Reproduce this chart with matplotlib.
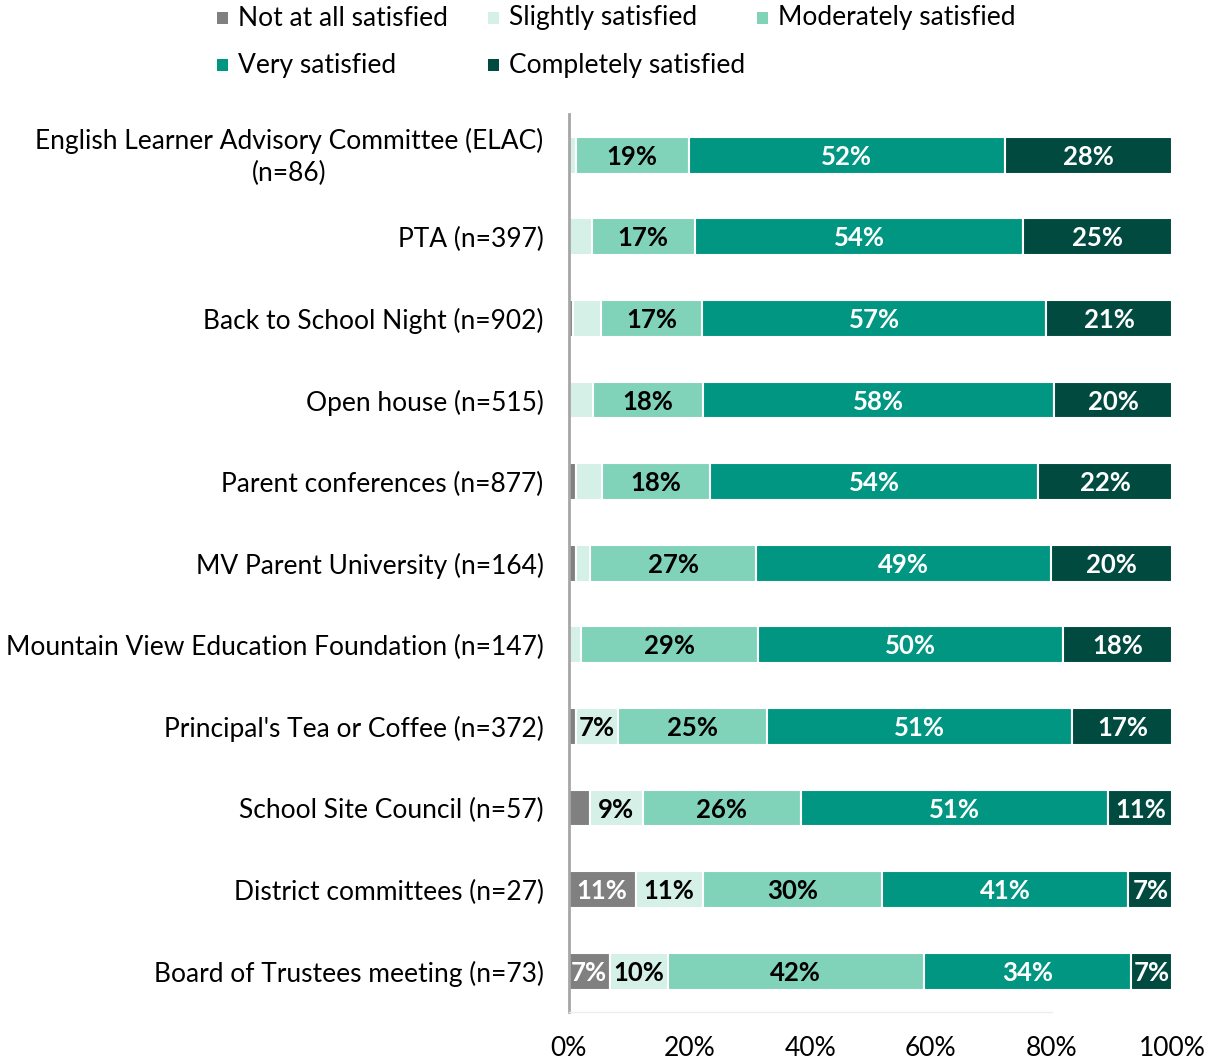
import matplotlib.pyplot as plt
from matplotlib.patches import Rectangle
import matplotlib.transforms as mtransforms
import numpy as np

plt.rcParams['font.family'] = ['Lato', 'DejaVu Sans']

programs = [
    'English Learner Advisory Committee (ELAC)\n(n=86)',
    'PTA (n=397)',
    'Back to School Night (n=902)',
    'Open house (n=515)',
    'Parent conferences (n=877)',
    'MV Parent University (n=164)',
    'Mountain View Education Foundation (n=147)',
    "Principal's Tea or Coffee (n=372)",
    'School Site Council (n=57)',
    'District committees (n=27)',
    'Board of Trustees meeting (n=73)',
]

levels = ['Not at all satisfied', 'Slightly satisfied', 'Moderately satisfied',
          'Very satisfied', 'Completely satisfied']

not_at_all = [0.0, 0.3, 0.8, 0.2, 1.2, 1.2, 0.0, 1.3, 3.5, 11.1, 6.8]
slightly = [1.2, 3.5, 4.5, 3.9, 4.3, 2.4, 2.0, 6.8, 8.8, 11.1, 9.6]
moderately = [18.7, 17.1, 16.8, 18.1, 17.9, 27.4, 29.3, 24.7, 26.1, 29.7, 42.4]
very = [52.3, 54.4, 57.0, 58.2, 54.4, 48.9, 50.5, 50.6, 51.0, 40.8, 34.3]
completely = [27.8, 24.7, 20.9, 19.6, 22.2, 20.1, 18.2, 16.6, 10.6, 7.3, 6.9]

colors = ['#808080', '#d5f0e6', '#80d3b8', '#009682', '#004a3f']
text_colors = ['white', 'black', 'black', 'white', 'white']

fig = plt.figure(figsize=(12.15, 10.63), dpi=100)
ax = fig.add_axes([0.468, 0.048, 0.497, 0.8444])

series = [not_at_all, slightly, moderately, very, completely]
y = np.arange(len(programs))
left = np.zeros(len(programs))
for vals, col, tcol in zip(series, colors, text_colors):
    vals = np.array(vals)
    ax.barh(y, vals, left=left, height=0.45, color=col, edgecolor='white', linewidth=1.5)
    for yi, (l, v) in enumerate(zip(left, vals)):
        if v >= 6:
            ax.text(l + v / 2, yi + 0.02, f'{round(v)}%', ha='center', va='center',
                    color=tcol, fontsize=18.5, fontweight='bold')
    left += vals

ax.set_xlim(0, 100)
ax.set_ylim(len(programs) - 0.5, -0.5)
ax.set_yticks(y)
ax.set_yticklabels(programs, fontsize=19, multialignment='center', linespacing=1.35)
ax.set_xticks(np.arange(0, 101, 20))
ax.set_xticklabels([f'{t}%' for t in range(0, 101, 20)], fontsize=19)
ax.tick_params(axis='y', length=0, pad=18)
ax.tick_params(axis='x', length=0, pad=17)
for s in ['top', 'right']:
    ax.spines[s].set_visible(False)
ax.spines['left'].set_color('#a6a6a6')
ax.spines['left'].set_linewidth(2)
ax.spines['bottom'].set_color('#ececec')
ax.spines['bottom'].set_linewidth(1)
ax.spines['bottom'].set_bounds(0, 80)

# nudge the two-line label up a little so it sits centred on its bar
elac = ax.get_yticklabels()[0]
elac.set_transform(elac.get_transform() +
                   mtransforms.ScaledTranslation(0, 3 / 72, fig.dpi_scale_trans))

# legend laid out as a fixed grid: three columns, two rows
W, H = 1215, 1063
cols_x = [217, 488, 757]
rows_y = [18, 65]
for i, (name, col) in enumerate(zip(levels, colors)):
    cx = cols_x[i % 3]
    cy = rows_y[i // 3]
    fig.add_artist(Rectangle(((cx) / W, 1 - (cy + 6) / H), 11 / W, 12 / H,
                             transform=fig.transFigure, facecolor=col, edgecolor='none'))
    fig.text((cx + 21) / W, 1 - cy / H, name, fontsize=19, ha='left', va='center')

fig.savefig('out.png', dpi=100)
